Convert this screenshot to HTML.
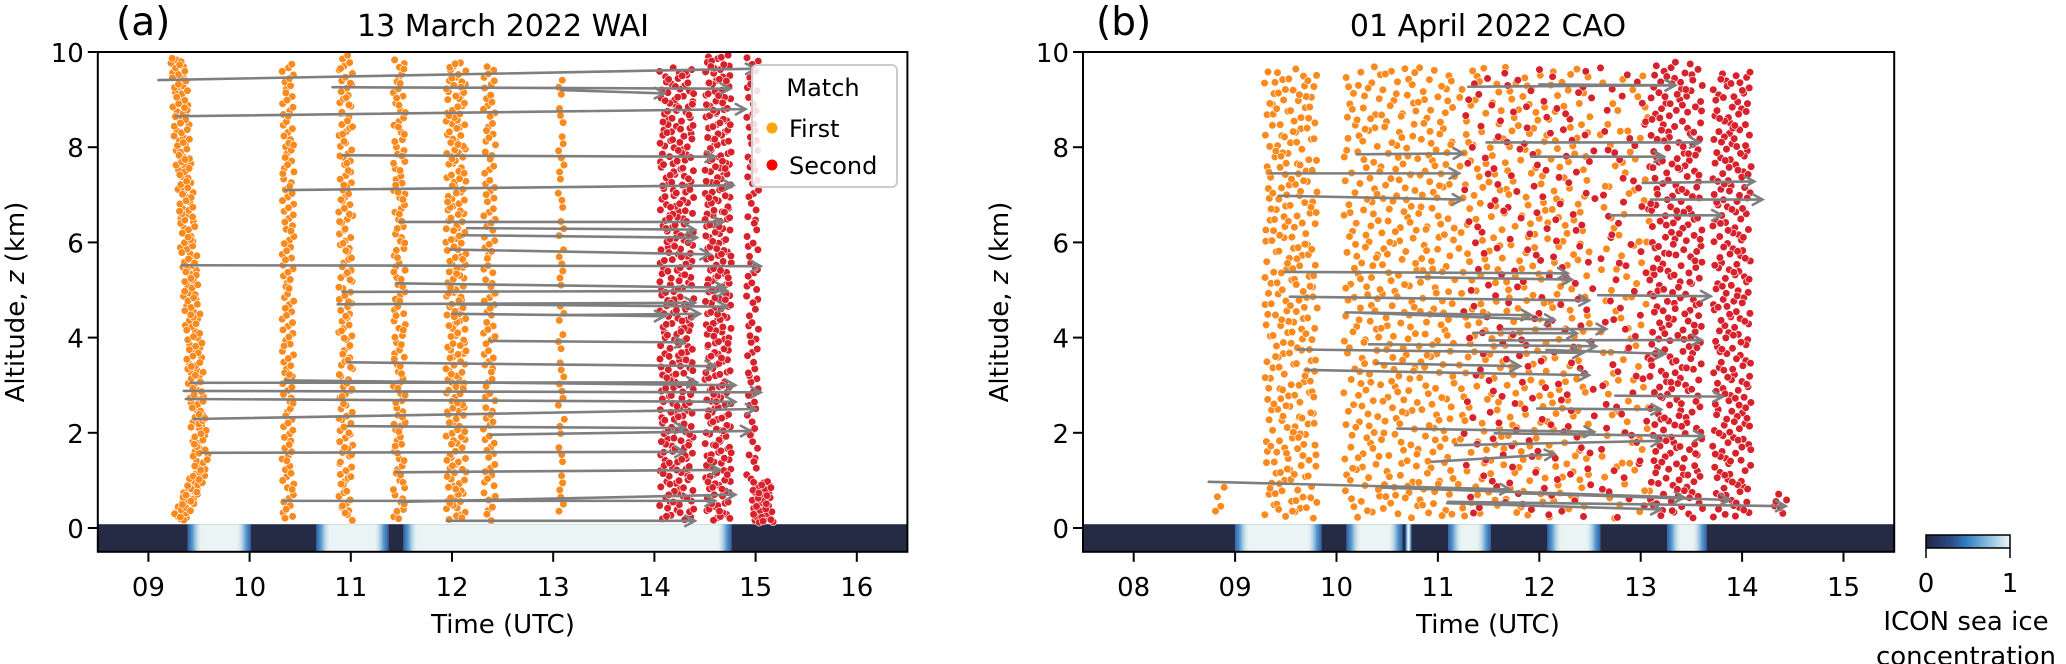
<!DOCTYPE html>
<html><head><meta charset="utf-8"><style>
html,body{margin:0;padding:0;background:#fff;}
svg{display:block;font-family:"DejaVu Sans","Liberation Sans",sans-serif;}
</style></head><body>
<svg id="fig" width="2066" height="664" viewBox="0 0 2066 664" xmlns="http://www.w3.org/2000/svg">
<defs>
<clipPath id="clipA"><rect x="98" y="52" width="811" height="500"/></clipPath>
<clipPath id="clipB"><rect x="1083" y="52" width="811" height="500"/></clipPath>
<linearGradient id="edgeL" x1="0" x2="1" y1="0" y2="0">
<stop offset="0" stop-color="#2c62aa"/><stop offset="0.35" stop-color="#5d9ccf"/><stop offset="1" stop-color="#d7e9ed" stop-opacity="0"/>
</linearGradient>
<linearGradient id="edgeR" x1="0" x2="1" y1="0" y2="0">
<stop offset="0" stop-color="#d7e9ed" stop-opacity="0"/><stop offset="0.65" stop-color="#5d9ccf"/><stop offset="1" stop-color="#2c62aa"/>
</linearGradient>
<linearGradient id="cbar" x1="0" x2="1" y1="0" y2="0">
<stop offset="0" stop-color="#232746"/><stop offset="0.3" stop-color="#2d4a86"/><stop offset="0.5" stop-color="#3583c7"/><stop offset="0.75" stop-color="#8cc0dd"/><stop offset="1" stop-color="#f0f7f7"/>
</linearGradient>
</defs>
<g id="panelA"></g>
<g id="panelB"></g>

<text x="116" y="35" font-size="39">(a)</text>
<text x="503" y="36" font-size="30" text-anchor="middle">13 March 2022 WAI</text>
<text x="1096" y="35" font-size="39">(b)</text>
<text x="1488" y="36" font-size="30" text-anchor="middle">01 April 2022 CAO</text>

<text transform="translate(24,302) rotate(-90)" font-size="26" text-anchor="middle">Altitude, <tspan font-style="italic">z</tspan> (km)</text>
<text transform="translate(1008,302) rotate(-90)" font-size="26" text-anchor="middle">Altitude, <tspan font-style="italic">z</tspan> (km)</text>
<text x="503" y="633" font-size="26" text-anchor="middle">Time (UTC)</text>
<text x="1488" y="633" font-size="26" text-anchor="middle">Time (UTC)</text>

<g>
<rect x="752" y="65" width="145" height="122" rx="5" fill="#fff" fill-opacity="0.85" stroke="#cccccc" stroke-width="2"/>
<text x="823" y="96" font-size="24" text-anchor="middle">Match</text>
<circle cx="772" cy="128" r="5.5" fill="#ffa500"/>
<text x="789" y="137" font-size="24">First</text>
<circle cx="772" cy="165" r="5.5" fill="#ff0000"/>
<text x="789" y="174" font-size="24">Second</text>
</g>

<g>
<rect x="1926" y="535" width="84" height="13" fill="url(#cbar)" stroke="#000" stroke-width="1.5"/>
<line x1="1926" y1="548" x2="1926" y2="558" stroke="#000" stroke-width="1.5"/>
<line x1="2010" y1="548" x2="2010" y2="558" stroke="#000" stroke-width="1.5"/>
<text x="1926" y="592" font-size="26" text-anchor="middle">0</text>
<text x="2010" y="592" font-size="26" text-anchor="middle">1</text>
<text x="1966" y="630" font-size="26" text-anchor="middle">ICON sea ice</text>
<text x="1966" y="665" font-size="26" text-anchor="middle">concentration</text>
</g>
</svg>
<script>
// ---- Panel A data ----
const aXTicks = [9,10,11,12,13,14,15,16];
const aXTickLabels = ["09","10","11","12","13","14","15","16"];
const yTicks = [0,2,4,6,8,10];
const yTickLabels = ["0","2","4","6","8","10"];
const aIce = [[9.39,10.01],[10.66,11.37],[11.52,14.76]];
// legs: [tAtZmin, tAtZmax, halfWidth, zMin, zMax, count]
const aFirstLegs = [[9.30,9.52,0.08,0.15,1.2,45],[9.52,9.29,0.08,1.2,9.9,220],[10.38,10.38,0.06,0.15,9.8,130],[10.95,10.95,0.07,0.15,9.95,160],[11.48,11.48,0.06,0.15,9.9,130],[12.04,12.04,0.1,0.15,9.8,230],[12.37,12.37,0.06,0.15,9.7,110],[13.08,13.08,0.03,0.2,9.7,50]];
const aSecondLegs = [[14.22,14.22,0.17,0.15,9.7,330],[14.63,14.63,0.13,0.15,9.95,300],[14.97,14.97,0.06,1.0,9.9,90],[15.08,15.05,0.1,0.1,1.0,45]];
const aArrowStartT = [9.1,10.82,13.08,9.27,10.92,10.35,11.48,12.15,12.1,11.98,9.33,11.45,10.92,10.87,12.02,12.0,13.07,12.37,10.97,9.42,10.35,9.35,9.37,9.45,10.97,12.38,9.52,11.45,10.33,11.5,11.95];
const aArrowStartZ = [9.41,9.26,9.2,8.65,7.83,7.1,6.43,6.3,6.15,5.85,5.52,5.14,4.96,4.7,4.7,4.5,4.47,3.93,3.48,3.05,3.1,2.88,2.71,2.29,2.14,1.96,1.58,1.17,0.57,0.55,0.15];
const aArrowEndT = [15.0,14.75,14.1,14.9,14.6,14.78,14.68,14.4,14.42,14.55,15.05,14.7,14.72,14.4,14.72,14.1,14.45,14.3,14.6,14.42,14.8,15.05,14.8,15.0,14.3,14.95,14.3,14.65,14.6,14.8,14.4];
const aArrowEndZ = [9.65,9.23,9.13,8.8,7.8,7.2,6.43,6.27,6.1,5.75,5.5,5.05,4.98,4.73,4.65,4.45,4.5,3.9,3.4,3.06,3.0,2.85,2.65,2.5,2.1,2.04,1.6,1.22,0.57,0.7,0.15];

// ---- Panel B data ----
const bXTicks = [8,9,10,11,12,13,14,15];
const bXTickLabels = ["08","09","10","11","12","13","14","15"];
const bIce = [[9.0,9.85],[10.1,10.65],[10.68,10.74],[11.1,11.52],[12.08,12.6],[13.26,13.65]];
const bFirstLegs = [[8.85,8.85,0.05,0.2,1.0,4],[9.55,9.55,0.26,0.2,9.65,280],[10.62,10.62,0.55,0.2,9.7,420],[11.85,11.85,0.65,0.2,9.7,360],[12.85,12.85,0.25,0.2,9.5,90]];
const bSecondLegs = [[11.9,11.9,0.65,0.2,9.7,190],[12.85,12.85,0.25,0.2,9.7,70],[13.35,13.35,0.26,0.2,9.8,300],[13.9,13.9,0.19,0.2,9.6,250],[14.38,14.38,0.06,0.25,0.75,6]];
const bArrowStartT = [11.3,12.0,10.2,11.48,11.92,9.35,9.43,13.02,13.1,12.7,9.49,10.79,9.54,12.58,10.09,10.24,11.64,11.35,11.51,10.32,9.62,12.07,10.39,9.7,12.75,11.98,10.6,11.56,11.17,10.94,8.74,10.45,11.79,11.09,11.1];
const bArrowStartZ = [9.27,9.32,7.85,8.1,7.8,7.45,6.98,7.25,6.9,6.57,5.38,5.27,4.86,4.89,4.53,4.52,4.18,4.1,3.94,3.86,3.75,3.74,3.46,3.32,2.78,2.51,2.09,1.99,1.74,1.39,0.97,0.85,0.73,0.52,0.55];
const bArrowEndT = [13.34,13.34,11.25,13.58,13.23,11.21,11.24,14.12,14.2,13.8,12.28,12.32,12.49,13.69,11.92,12.15,12.66,12.37,13.6,12.56,12.43,13.24,11.81,12.49,13.81,13.2,12.54,13.62,13.2,12.15,11.71,13.43,13.88,13.2,14.43];
const bArrowEndZ = [9.3,9.3,7.87,8.1,7.8,7.45,6.9,7.28,6.9,6.57,5.35,5.22,4.78,4.87,4.47,4.37,4.18,4.09,3.95,3.82,3.68,3.66,3.4,3.21,2.76,2.49,2.02,1.93,1.83,1.55,0.81,0.64,0.59,0.39,0.46];

const NS = "http://www.w3.org/2000/svg";
const ORANGE = "#fb8a1e", RED = "#d7222b";
function el(tag, attrs, parent){const e=document.createElementNS(NS,tag);for(const k in attrs)e.setAttribute(k,attrs[k]);parent.appendChild(e);return e;}
function halton(i,b){let f=1,r=0;while(i>0){f/=b;r+=f*(i%b);i=Math.floor(i/b);}return r;}
const yOf = z => 528 - z*47.6;

function drawPanel(g, cfg){
  const x = cfg.x, L = x(cfg.xmin), R = x(cfg.xmax), T = yOf(10), B = yOf(-0.5);
  const bt = yOf(0.08), bh = B - bt;
  const band = el('g',{},g);
  
  
  el('rect',{x:L,y:bt,width:R-L,height:bh,fill:"#252a45"},band);
  cfg.ice.forEach(s=>{
    const x0=x(s[0]), x1=x(s[1]), w=x1-x0, e=Math.min(14,w/2);
    const r = el('rect',{x:x0,y:bt,width:w,height:bh,fill:"#eaf4f4"},band);
    
    
    el('rect',{x:x0,y:bt,width:e,height:bh,fill:"url(#edgeL)"},band);
    el('rect',{x:x1-e,y:bt,width:e,height:bh,fill:"url(#edgeR)"},band);
  });
  const dots = el('g',{'clip-path':cfg.clip},g);
  
  
  let seed = cfg.seed;
  const drawLegs = (legs,color,name)=>{
    legs.forEach(l=>{
      for(let k=0;k<l[5];k++){
        seed++;
        const u=halton(seed,2), v=halton(seed,3);
        const z=l[3]+u*(l[4]-l[3]);
        const t=l[0]+(l[1]-l[0])*u+(v*2-1)*l[2];
        const c=el('circle',{cx:x(t).toFixed(1),cy:yOf(z).toFixed(1),r:3.8,fill:color,stroke:"#fff","stroke-width":0.6},dots);
        
        
      }
    });
  };
  drawLegs(cfg.first,ORANGE,'first-match-point');
  drawLegs(cfg.second,RED,'second-match-point');
  const arr = el('g',{stroke:"#7f7f7f","stroke-width":2.6,fill:"none","stroke-linecap":"round"},g);
  
  
  for(let i=0;i<cfg.as.length;i++){
    const x1=x(cfg.as[i]),y1=yOf(cfg.az[i]),x2=x(cfg.ae[i]),y2=yOf(cfg.aez[i]);
    const a=Math.atan2(y2-y1,x2-x1), h=11, w=0.5;
    const p=el('path',{d:`M${x1},${y1}L${x2},${y2}M${x2-h*Math.cos(a-w)},${y2-h*Math.sin(a-w)}L${x2},${y2}L${x2-h*Math.cos(a+w)},${y2-h*Math.sin(a+w)}`},arr);
    
    
  }
  const fr=el('rect',{x:L,y:T,width:R-L,height:B-T,fill:"none",stroke:"#000","stroke-width":2},g);
  
  
  yTicks.forEach((v,i)=>{
    el('line',{x1:L-10,x2:L,y1:yOf(v),y2:yOf(v),stroke:"#000","stroke-width":2},g);
    const t=el('text',{x:L-14,y:yOf(v)+10,"font-size":26,"text-anchor":"end"},g);
    t.textContent=yTickLabels[i];
    
    
  });
  cfg.xt.forEach((v,i)=>{
    el('line',{x1:x(v),x2:x(v),y1:B,y2:B+10,stroke:"#000","stroke-width":2},g);
    const t=el('text',{x:x(v),y:596,"font-size":26,"text-anchor":"middle"},g);
    t.textContent=cfg.xl[i];
    
    
  });
}
drawPanel(document.getElementById('panelA'),{x:t=>97.8+(t-8.5)*101.2,xmin:8.5,xmax:16.5,ice:aIce,first:aFirstLegs,second:aSecondLegs,clip:"url(#clipA)",seed:0,as:aArrowStartT,az:aArrowStartZ,ae:aArrowEndT,aez:aArrowEndZ,xt:aXTicks,xl:aXTickLabels});
drawPanel(document.getElementById('panelB'),{x:t=>1083+(t-7.5)*101.4,xmin:7.5,xmax:15.5,ice:bIce,first:bFirstLegs,second:bSecondLegs,clip:"url(#clipB)",seed:5000,as:bArrowStartT,az:bArrowStartZ,ae:bArrowEndT,aez:bArrowEndZ,xt:bXTicks,xl:bXTickLabels});
</script>
</body></html>
